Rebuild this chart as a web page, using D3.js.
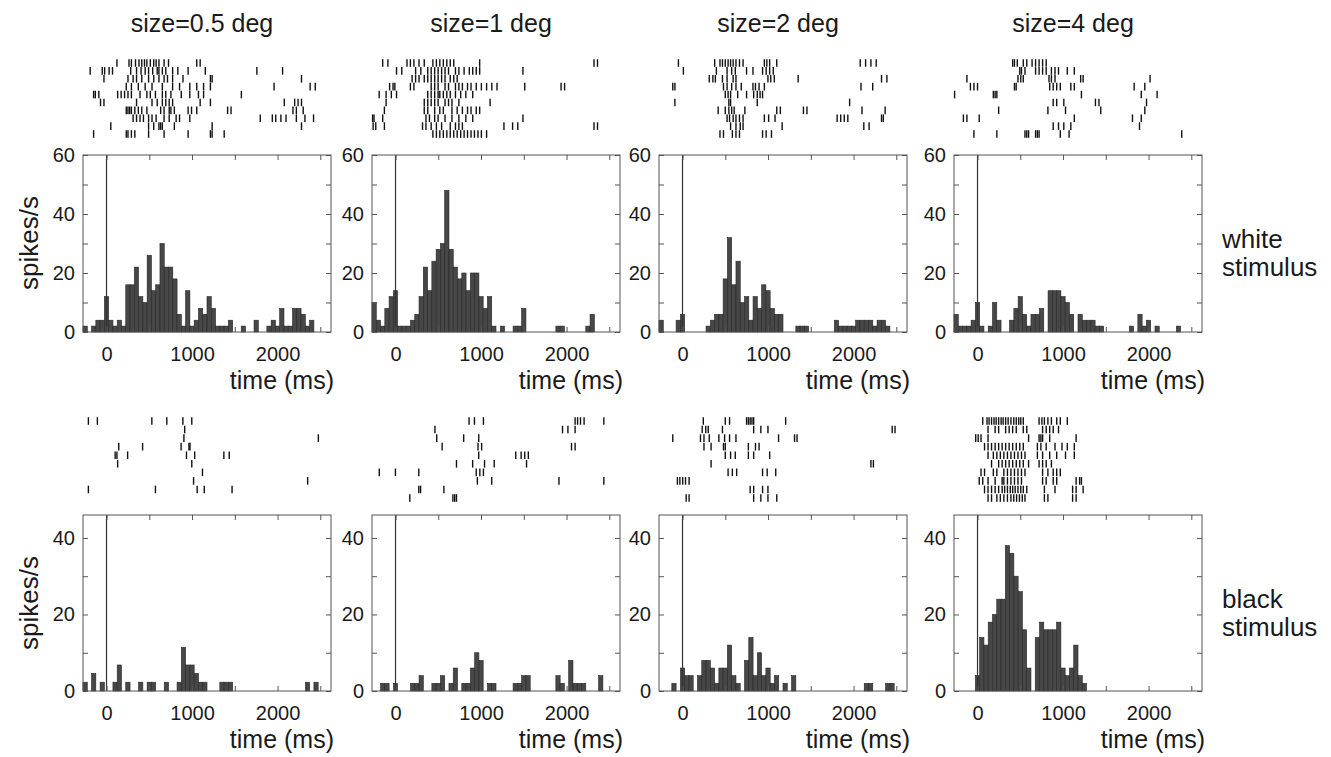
<!DOCTYPE html>
<html><head><meta charset="utf-8">
<script src="https://cdn.jsdelivr.net/npm/d3@7"></script>
<style>
body{margin:0;background:#fff}
svg{display:block}
</style>
</head><body>
<svg id="c" width="1331" height="757"></svg>
<script>
// ---------- data ----------
const titles = ["size=0.5 deg", "size=1 deg", "size=2 deg", "size=4 deg"];
const binStart = -275, binWidth = 50;
const xDomain = [-275, 2625];
const xTicks = [0, 500, 1000, 1500, 2000, 2500];
const xTickLabels = [0, 1000, 2000];
const whiteYTicks = [0, 10, 20, 30, 40, 50, 60];
const whiteYLabels = [0, 20, 40, 60];
const blackYTicks = [0, 10, 20, 30, 40];
const blackYLabels = [0, 20, 40];

// PSTH rates (spikes/s) per 50 ms bin starting at binStart
const whiteRate05 = [2,0,2,4,4,12,4,2,4,2,16,16,22,12,10,26,14,16,30,22,22,18,6,2,14,2,4,8,6,12,8,2,2,2,4,0,0,2,0,0,4,0,0,2,4,2,8,2,2,8,8,6,2,4,0];
const whiteRate1  = [10,4,2,8,12,14,2,2,2,4,6,12,22,14,24,28,30,48,28,22,18,20,14,20,20,12,8,12,2,0,2,0,0,2,2,8,0,0,0,0,0,0,0,2,2,0,0,0,0,0,2,6,0,0,0];
const whiteRate2  = [4,0,0,0,4,6,0,0,0,0,0,2,4,6,6,18,32,16,24,10,12,4,12,8,16,14,8,6,6,0,0,0,2,2,2,0,0,0,0,0,0,4,2,2,2,2,4,4,4,4,2,4,4,2,0];
const whiteRate4  = [6,2,2,2,4,10,2,0,2,10,4,0,0,4,8,12,6,2,6,6,8,0,14,14,14,12,10,6,0,6,4,4,4,2,2,0,0,0,0,0,0,2,0,6,2,4,0,2,0,0,0,0,2,0,0];
const blackRate05 = [2.3,0,4.6,0,2.3,0,0,2.3,6.8,0,2.3,0,0,2.3,0,2.3,2.3,0,0,2.3,0,0,2.3,11.4,6.8,6.8,4.6,2.3,2.3,0,0,0,2.3,2.3,2.3,0,0,0,0,0,0,0,0,0,0,0,0,0,0,0,0,0,2.3,0,2.3];
const blackRate1  = [0,0,2,2,0,2,0,0,0,2,2,4,0,0,2,2,4,0,2,6,0,2,2,6,10,8,0,2,2,0,0,0,0,2,2,4,4,0,0,0,0,0,0,4,2,0,8,2,2,2,0,0,0,4,0];
const blackRate2  = [0,0,0,2,0,6,4,4,0,4,8,8,6,2,6,6,12,4,2,0,8,14,4,10,4,6,2,4,0,2,0,4,0,0,0,0,0,0,0,0,0,0,0,0,0,0,0,0,2,2,0,0,0,2,2];
const blackRate4  = [0,0,0,0,0,4,14,12,18,20,24,24,38,36,30,26,16,6,0,14,18,16,16,16,18,6,4,6,12,4,2,0,0,0,0,0,0,0,0,0,0,0,0,0,0,0,0,0,0,0,0,0,0,0,0];

// spike rasters (ms), one array per trial
const whiteSpikes05 = [
 [122,263,291,339,380,412,444,472,512,552,580,613,673,725,1055,1095],
 [-191,-50,-22,30,70,283,351,404,452,492,540,593,613,653,693,773,834,954,1155,1758,2059],
 [-30,251,311,351,412,492,552,613,673,713,773,894,1215,1235,2280],
 [231,291,372,452,532,653,773,854,974,1055,1135,1215,1959,2381,2441],
 [-151,-131,-90,130,171,211,251,291,392,472,512,572,653,693,753,874,974,1075,1135,1577],
 [-70,-30,351,532,593,653,693,733,773,1095,1215,2079,2200,2240,2280],
 [231,251,271,291,331,372,412,472,633,673,733,753,793,954,994,1055,1416,1456,2180,2220,2300],
 [311,351,392,432,492,532,580,673,733,814,854,974,1798,1939,1979,2039,2099,2220,2320,2421],
 [50,492,552,613,633,653,793,1235,2280],
 [-151,231,251,291,331,492,673,954,1215,1235,1376]
];
const whiteSpikes1 = [
 [-150,-89,134,174,215,275,336,437,478,518,559,600,640,681,984,2321,2362],
 [12,73,235,296,377,417,458,498,539,579,620,701,741,802,863,903,944,984,1490],
 [194,235,275,336,377,417,458,498,539,579,640,681,721],
 [-69,-29,-8,174,215,417,458,498,579,620,701,741,782,842,883,944,1004,1065,1126,1187,1511,1936,1977],
 [-191,-110,-49,12,377,417,458,498,518,559,600,640,701,762,822,903],
 [-110,336,377,417,458,498,579,620,660,741,1106],
 [-130,336,377,458,518,559,660,721,782,842,883,944,984],
 [-268,-251,-150,356,397,458,498,579,660,741,822,903,1490],
 [-262,-231,-130,316,356,417,478,539,640,701,741,782,1268,1369,1430,2321,2362],
 [437,478,518,559,600,640,681,721,762,802,842,883,923,964,1004,1065]
];
const whiteSpikes2 = [
 [-48,376,438,467,500,533,562,592,625,666,708,957,986,1019,1102,2078,2141,2203,2265],
 [10,396,521,575,617,749,824,936,978,1019,1061],
 [313,355,384,467,521,592,625,999,1032,1073,1352,2327,2390],
 [-114,-89,479,521,575,625,687,824,853,895,957,2087,2224],
 [500,533,562,645,749,832,874,907,936],
 [-89,542,562,874,1954],
 [417,500,542,575,604,729,1102,1144,1414,1455,2099,2369],
 [521,550,592,625,666,708,957,1007,1082,1808,1850,1891,1933,2327,2348],
 [562,625,675,708,1165,2120,2182],
 [438,479,583,625,666,936,978,1040]
];
const whiteSpikes4 = [
 [411,432,465,535,576,638,679,720,761,803],
 [494,514,555,679,720,761,803,864,906,947,1050,1132],
 [-124,473,506,535,836,864,906,1206,1235,2018],
 [-83,-42,0,432,452,844,885,926,968,1091,1132,1832,1956],
 [-268,185,206,226,1215,1915,2100],
 [885,926,1009,1379,1420,1976],
 [247,823,1029,1441,1956],
 [-165,-124,20,1132,1812,1915],
 [885,947,1009,1091,1894],
 [-42,226,555,576,597,679,700,720,968,1071,2388]
];
const blackSpikes05 = [
 [-212,-107,530,705,893,997],
 [914],
 [905,2477],
 [143,422,872,964,976],
 [101,122,247,935,1031,1372,1435],
 [130,997],
 [1122],
 [1018,2352],
 [-212,572,1060,1143,1468],
 []
];
const blackSpikes1 = [
 [860,923,1028,2100,2129,2163,2205,2436],
 [461,1953,2016,2100],
 [482,797,973],
 [545,965,1007,2058,2100],
 [973,1406,1469,1511,1553],
 [713,902,1041,1154,1532],
 [-190,-1,272,944,986,1028],
 [957,1125,1911,2436],
 [272,293,566],
 [167,671,692,713]
];
const blackSpikes2 = [
 [243,500,550,749,770,791,812,832,1206],
 [230,272,301,467,832,916,999,2452,2485],
 [-114,210,251,313,425,492,550,625,1123,1310,1339],
 [251,334,479,500,770,853,895],
 [500,562,617,770,832,1019],
 [334,2203,2232],
 [533,583,633,936,990,1090],
 [-60,-31,2,35,77],
 [791,832,936,999],
 [43,77,832,916,999,1102]
];
const blackSpikes4 = [
 [61,111,135,164,193,218,247,276,300,329,358,391,424,453,482,506,535,720,753,782,823,864,926,968,1050],
 [123,206,247,329,370,411,453,535,576,761,803,844,885,947],
 [-21,8,41,123,597,720,741,761,844,1153],
 [82,123,164,206,247,288,329,370,411,453,494,535,700,741,803,906,988,1050,1132],
 [123,185,226,267,308,350,391,432,473,514,555,700,761,844,926,1029,1132],
 [164,247,288,329,370,411,453,494,535,597,720,761,803,864],
 [41,82,185,226,308,350,391,432,473,514,555,761,823,885,926,968],
 [20,61,123,206,288,308,350,391,432,473,514,761,803,885,926,1153,1194,1215],
 [82,123,164,206,247,288,317,350,383,411,440,473,506,535,576,782,906,1112,1153,1235],
 [123,164,226,267,308,350,391,424,457,490,523,555,782,823,1112,1153]
];

// ---------- layout ----------
const FONT = '"Liberation Sans", Arial, Helvetica, sans-serif';
const TXT = "#1a1a1a";
const AX = "#555";
const panelLeft = [83, 372, 659, 954];
const panelW = 248;
const rowCfg = [
  {rates:[whiteRate05,whiteRate1,whiteRate2,whiteRate4], spikes:[whiteSpikes05,whiteSpikes1,whiteSpikes2,whiteSpikes4],
   yMax:60, yTicks:whiteYTicks, yLabels:whiteYLabels, top:155, bottom:332, rTop:63, rBottom:134,
   side:["white","stimulus"], sideY:248, ylabY:243},
  {rates:[blackRate05,blackRate1,blackRate2,blackRate4], spikes:[blackSpikes05,blackSpikes1,blackSpikes2,blackSpikes4],
   yMax:46, yTicks:blackYTicks, yLabels:blackYLabels, top:515, bottom:691, rTop:421, rBottom:498,
   side:["black","stimulus"], sideY:608, ylabY:603}
];

const svg = d3.select("#c");

// titles
titles.forEach((t, p) => {
  svg.append("text").attr("x", panelLeft[p] + panelW/2 - 5).attr("y", 32)
    .attr("text-anchor","middle").attr("font-family",FONT).attr("font-size",25).attr("fill",TXT).text(t);
});

rowCfg.forEach(rc => {
  // y label
  svg.append("text").attr("transform",`translate(38,${rc.ylabY}) rotate(-90)`)
    .attr("text-anchor","middle").attr("font-family",FONT).attr("font-size",26).attr("fill",TXT).text("spikes/s");
  // side label
  rc.side.forEach((s,i) => {
    svg.append("text").attr("x",1222).attr("y",rc.sideY + i*28)
      .attr("font-family",FONT).attr("font-size",26).attr("fill",TXT).text(s);
  });

  for (let p = 0; p < 4; p++) {
    const left = panelLeft[p], right = left + panelW;
    const x = d3.scaleLinear().domain(xDomain).range([left, right]);
    const y = d3.scaleLinear().domain([0, rc.yMax]).range([rc.bottom, rc.top]);
    const g = svg.append("g");

    // raster
    const ry = d3.scalePoint().domain(d3.range(rc.spikes[p].length)).range([rc.rTop, rc.rBottom]);
    const rg = g.append("g");
    rc.spikes[p].forEach((trial, i) => {
      rg.selectAll(null).data(trial).enter().append("line")
        .attr("x1", d => x(d)).attr("x2", d => x(d))
        .attr("y1", ry(i) - 3.8).attr("y2", ry(i) + 3.8)
        .attr("stroke","#111").attr("stroke-width",1.4);
    });

    // bars
    const bins = rc.rates[p].map((v,i) => ({t0: binStart + i*binWidth, v}));
    g.append("g").selectAll("rect").data(bins.filter(b => b.v > 0)).enter().append("rect")
      .attr("x", d => x(d.t0)).attr("width", d => x(d.t0 + binWidth) - x(d.t0))
      .attr("y", d => y(d.v)).attr("height", d => y(0) - y(d.v))
      .attr("fill","#474747").attr("stroke","#262626").attr("stroke-width",0.6);

    // zero line
    g.append("line").attr("x1",x(0)).attr("x2",x(0)).attr("y1",rc.top).attr("y2",rc.bottom)
      .attr("stroke","#333").attr("stroke-width",1.2);

    // axes
    const styleAxis = (sel) => {
      sel.select(".domain").remove();
      sel.selectAll(".tick line").attr("stroke",AX).attr("stroke-width",1);
      sel.attr("font-family",FONT).attr("font-size",20);
      sel.selectAll("text").attr("fill",TXT);
    };
    g.append("g").attr("transform",`translate(0,${rc.bottom})`)
      .call(d3.axisBottom(x).tickValues(xTicks).tickSizeInner(-5).tickSizeOuter(0).tickPadding(15)
        .tickFormat(d => xTickLabels.includes(d) ? d : "")).call(styleAxis);
    g.append("g").attr("transform",`translate(0,${rc.top})`)
      .call(d3.axisTop(x).tickValues(xTicks).tickSizeInner(-5).tickSizeOuter(0).tickFormat("")).call(styleAxis);
    g.append("g").attr("transform",`translate(${left},0)`)
      .call(d3.axisLeft(y).tickValues(rc.yTicks).tickSizeInner(-5).tickSizeOuter(0).tickPadding(8)
        .tickFormat(d => rc.yLabels.includes(d) ? d : "")).call(styleAxis);
    g.append("g").attr("transform",`translate(${right},0)`)
      .call(d3.axisRight(y).tickValues(rc.yTicks).tickSizeInner(-5).tickSizeOuter(0).tickFormat("")).call(styleAxis);

    // frame
    g.append("rect").attr("x",left).attr("y",rc.top).attr("width",panelW).attr("height",rc.bottom-rc.top)
      .attr("fill","none").attr("stroke",AX).attr("stroke-width",1);

    // x label
    g.append("text").attr("x", right + 3).attr("y", rc.bottom + 57)
      .attr("text-anchor","end").attr("font-family",FONT).attr("font-size",25).attr("fill",TXT).text("time (ms)");
  }
});
</script>
</body></html>
